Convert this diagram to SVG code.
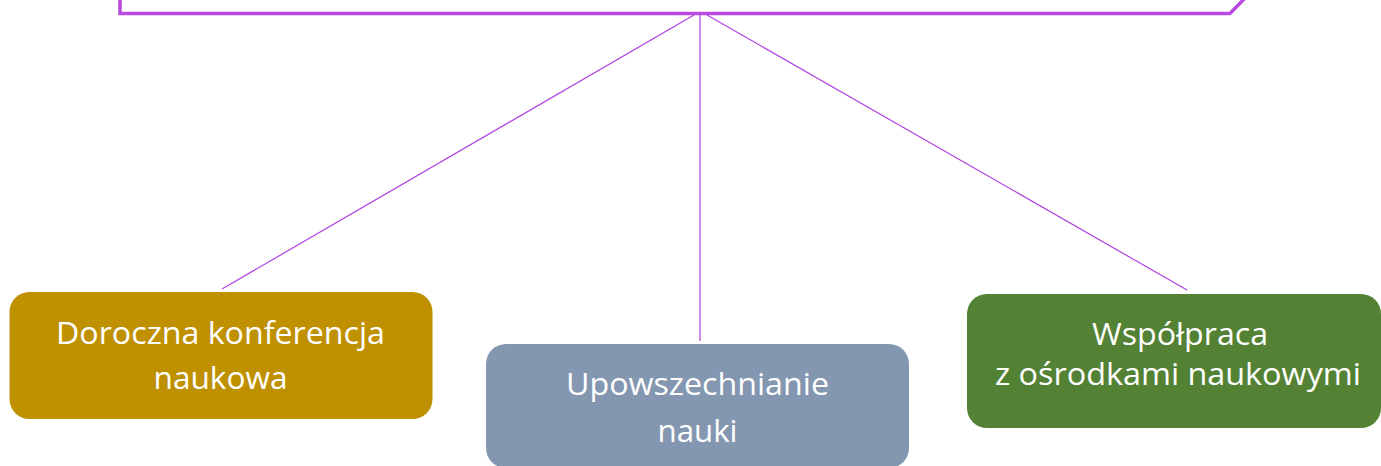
<svg xmlns="http://www.w3.org/2000/svg" width="1381" height="466" viewBox="0 0 1381 466">
<style>
.frame{fill:none;stroke:#B84AE0;stroke-width:3.5;stroke-linejoin:miter}
.conn{stroke:#B040E0;stroke-width:1.2;fill:none}
.lbl{font-family:"Open Sans","Noto Sans",sans-serif;font-size:31px;fill:#FFFFFF;text-anchor:middle}
</style>
<rect width="1381" height="466" fill="#FFFFFF"/>
<g id="top-frame">
<path class="frame" d="M120,-10 L120,13.5 L1230,13.5 L1247,-4"/>
</g>
<g id="connectors">
<line class="conn" x1="694" y1="15" x2="222" y2="289"/>
<line class="conn" x1="700" y1="15" x2="700" y2="341"/>
<line class="conn" x1="707" y1="15" x2="1187" y2="290"/>
</g>
<g id="node-konferencja">
<rect x="9.5" y="292" width="423" height="127" rx="20" fill="#BF9000"/>
<text class="lbl" x="220.5" y="344" textLength="329" lengthAdjust="spacingAndGlyphs">Doroczna konferencja</text>
<text class="lbl" x="220.5" y="389" textLength="134" lengthAdjust="spacingAndGlyphs">naukowa</text>
</g>
<g id="node-upowszechnianie">
<rect x="486" y="344" width="423" height="124" rx="20" fill="#8497B0"/>
<text class="lbl" x="697.5" y="395" textLength="263" lengthAdjust="spacingAndGlyphs">Upowszechnianie</text>
<text class="lbl" x="697.5" y="442" textLength="80" lengthAdjust="spacingAndGlyphs">nauki</text>
</g>
<g id="node-wspolpraca">
<rect x="967" y="294" width="414" height="134" rx="20" fill="#548235"/>
<text class="lbl" x="1180" y="345" textLength="176" lengthAdjust="spacingAndGlyphs">Współpraca</text>
<text class="lbl" x="1178" y="385" textLength="366" lengthAdjust="spacingAndGlyphs">z ośrodkami naukowymi</text>
</g>
</svg>
